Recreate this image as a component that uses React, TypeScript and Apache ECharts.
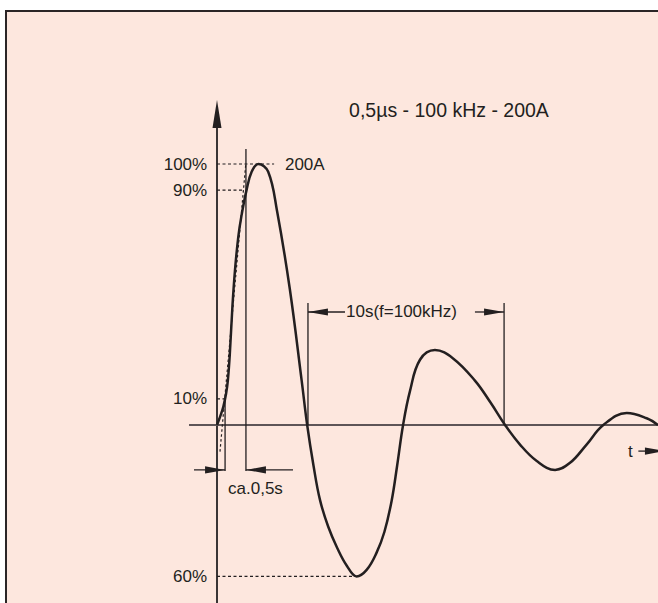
import React, { useEffect, useRef } from "react";
import * as echarts from "echarts";

// ---- data (time in µs, amplitude in % of 200 A) ----
const curveT = [0, 0.15, 0.32, 0.46, 0.55, 0.65, 0.78, 0.91, 1.08, 1.25, 1.5, 1.76, 2.1, 2.6, 3.05, 3.7, 4.3, 4.58, 4.9, 5.23, 5.65, 6.1, 6.6, 7.09, 7.6, 8.1, 8.5, 8.87, 9.15, 9.45, 9.8, 10.31, 11.07, 11.99, 13.1, 13.9, 14.63, 15.39, 16.24, 17.17, 17.93, 18.77, 19.62, 20.81, 21.82, 22.4];
const curveV = [0, 3, 7, 12, 17, 27, 45, 59, 72, 80.5, 90, 97, 100, 97, 82, 52, 17, 0, -15.5, -28.7, -39, -47, -54, -58, -55.5, -49, -41, -29, -15.5, 0, 13, 25, 28.7, 25.5, 17, 8.5, 0, -7.5, -13.8, -17.2, -14.5, -7.5, 0, 4.6, 2.6, 0];

// reference levels
const levelValues = [100, 90, 10, -58];
const levelLabels = ["100%", "90%", "10%", "60%"];
const levelEnds = [2.9, 1.32, 0.41, 7.0];

// dotted rise-time construction line [t1, v1, t2, v2]
const riseLine = [0.152, -10.2, 1.457, 99.6];

// thin solid annotation segments [t1, v1, t2, v2]
const annoSegments = [
  [1.47, 105.7, 1.47, -17.6],
  [0.41, 10, 0.41, -17.6],
  [4.62, 46.7, 4.62, 0],
  [14.58, 46.7, 14.58, 0],
  [4.62, 43.3, 6.5, 43.3],
  [13.1, 43.3, 14.58, 43.3],
  [-1.17, -17.2, 0.41, -17.2],
  [1.47, -17.2, 3.86, -17.2],
  [21.4, -10, 22.7, -10],
];

// axes [t1, v1, t2, v2]
const yAxisLine = [0, -70, 0, 114];
const xAxisLine = [-1.42, 0, 22.6, 0];

// arrow heads: tip t, tip v, direction
const arrowT = [0, 4.62, 14.58, 0.41, 1.47, 22.75];
const arrowV = [124.5, 43.3, 43.3, -17.2, -17.2, -10];
const arrowDir = ["up", "left", "right", "right", "left", "right"];
const arrowBig = [true, false, false, false, false, false];

// free texts
const textLabels = ["0,5µs - 100 kHz - 200A", "200A", "10s(f=100kHz)", "ca.0,5s", "t"];
const textT = [11.78, 3.45, 6.55, 0.56, 20.87];
const textV = [120.7, 100, 43.3, -24.5, -10];

const X_MIN = -217 / 19.69;
const X_MAX = (658 - 217) / 19.69;
const Y_MAX = 425 / 2.61;
const Y_MIN = -(603 - 425) / 2.61;

const INK = "#231f20";
const FONT = "'Liberation Sans', Arial, Helvetica, sans-serif";

function seg(s: number[], color: string, width: number, dash: any, name: string) {
  return {
    type: "line",
    name,
    data: [
      [s[0], s[1]],
      [s[2], s[3]],
    ],
    symbol: "none",
    silent: true,
    z: 3,
    lineStyle: { color, width, type: dash },
  };
}

export default function App() {
  const ref = useRef<HTMLDivElement>(null);

  useEffect(() => {
    if (!ref.current) return;
    const chart = echarts.init(ref.current, undefined, { renderer: "svg" });

    const series: any[] = [];

    // axes
    series.push(seg(yAxisLine, "#3a3536", 2, "solid", "yaxis"));
    series.push(seg(xAxisLine, "#5e5557", 2, "solid", "xaxis"));

    // dotted level lines
    levelValues.forEach((v, i) => {
      series.push(seg([0, v, levelEnds[i], v], INK, 1.2, [3, 2.5], "level" + i));
    });
    series.push(seg(riseLine, INK, 1.2, [2.5, 2.5], "rise"));

    // annotation segments
    annoSegments.forEach((s, i) => series.push(seg(s, INK, 1.3, "solid", "anno" + i)));

    // main waveform
    series.push({
      type: "line",
      name: "current",
      data: curveT.map((t, i) => [t, curveV[i]]),
      smooth: 0.4,
      symbol: "none",
      z: 5,
      lineStyle: { color: INK, width: 2.5 },
    });

    // arrow heads
    series.push({
      type: "custom",
      name: "arrows",
      z: 6,
      data: arrowT.map((t, i) => [t, arrowV[i]]),
      renderItem: (params: any, api: any) => {
        const i = params.dataIndex;
        const p = api.coord([api.value(0), api.value(1)]);
        const len = arrowBig[i] ? 28 : 20;
        const hw = arrowBig[i] ? 4.5 : 3.6;
        const d = arrowDir[i];
        const dx = d === "left" ? -1 : d === "right" ? 1 : 0;
        const dy = d === "up" ? -1 : d === "down" ? 1 : 0;
        const bx = p[0] - dx * len;
        const by = p[1] - dy * len;
        const px = -dy;
        const py = dx;
        return {
          type: "polygon",
          shape: {
            points: [
              [p[0], p[1]],
              [bx + px * hw, by + py * hw],
              [bx - px * hw, by - py * hw],
            ],
          },
          style: { fill: INK },
        };
      },
    });

    // level labels (right aligned left of axis)
    series.push({
      type: "custom",
      name: "levelLabels",
      z: 6,
      data: levelValues.map((v) => [-0.5, v]),
      renderItem: (params: any, api: any) => {
        const i = params.dataIndex;
        const p = api.coord([api.value(0), api.value(1)]);
        return {
          type: "text",
          x: p[0],
          y: p[1],
          style: {
            text: levelLabels[i],
            fill: INK,
            fontSize: 17,
            fontFamily: FONT,
            align: "right",
            verticalAlign: "middle",
          },
        };
      },
    });

    // free texts
    series.push({
      type: "custom",
      name: "texts",
      z: 6,
      data: textT.map((t, i) => [t, textV[i]]),
      renderItem: (params: any, api: any) => {
        const i = params.dataIndex;
        const p = api.coord([api.value(0), api.value(1)]);
        const isTitle = i === 0;
        return {
          type: "text",
          x: p[0],
          y: p[1],
          style: {
            text: textLabels[i],
            fill: INK,
            fontSize: isTitle ? 19.5 : 17,
            fontFamily: FONT,
            align: isTitle ? "center" : "left",
            verticalAlign: "middle",
          },
        };
      },
    });

    chart.setOption({
      animation: false,
      backgroundColor: "transparent",
      grid: { left: 0, right: 0, top: 0, bottom: 0, containLabel: false },
      xAxis: { type: "value", min: X_MIN, max: X_MAX, show: false },
      yAxis: { type: "value", min: Y_MIN, max: Y_MAX, show: false },
      series,
    });

    return () => chart.dispose();
  }, []);

  return (
    <div
      style={{
        position: "fixed",
        left: 0,
        top: 0,
        width: 658,
        height: 603,
        overflow: "hidden",
        background: "#ffffff",
      }}
    >
      <div
        style={{
          position: "absolute",
          left: 5,
          top: 10,
          width: 720,
          height: 720,
          background: "#fde7de",
          borderLeft: "2px solid #2b2526",
          borderTop: "2px solid #2b2526",
        }}
      />
      <div
        ref={ref}
        style={{ position: "absolute", left: 0, top: 0, width: 658, height: 603 }}
      />
    </div>
  );
}
